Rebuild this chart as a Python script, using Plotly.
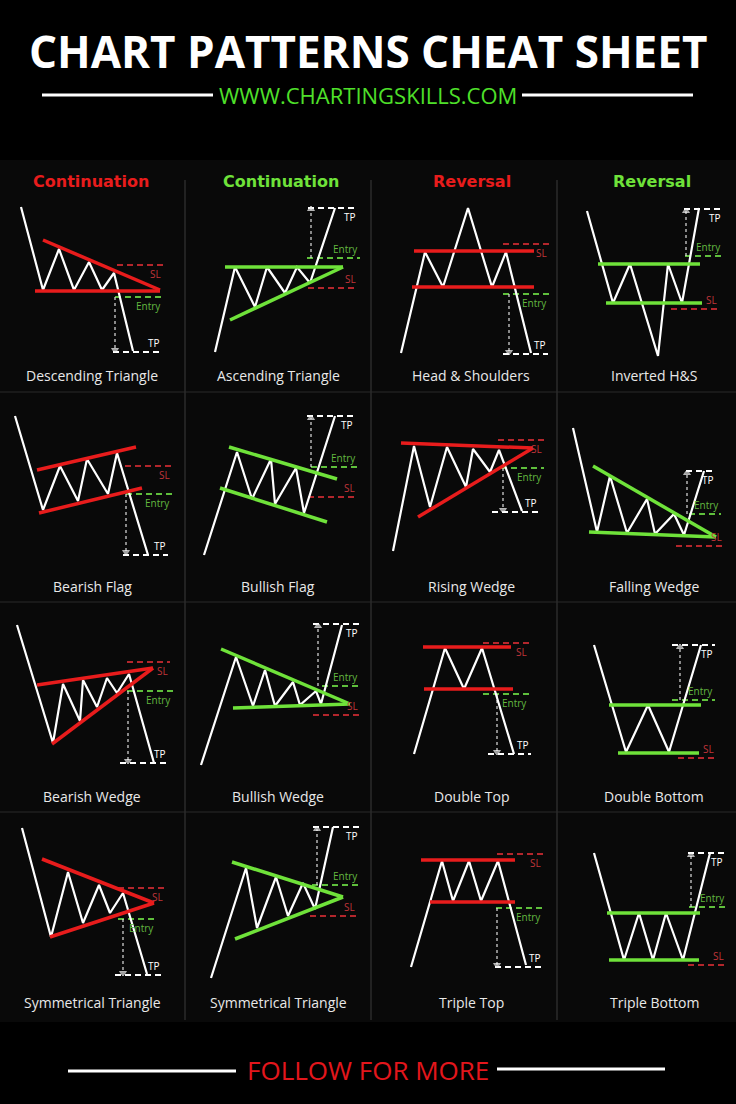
import plotly.graph_objects as go

# ---- pattern data (local panel units, x to the right, y = price up) ----
# each pattern: price path, trend lines (x0, y0, x1, y1), levels SL / Entry / TP (y, x0, x1), target arrow (x, from, to)

desc_tri_x = [21, 43, 59, 74, 89, 102, 114, 133]
desc_tri_y = [185, 102, 143, 102, 130, 102, 119, 41]
desc_tri_trend = [(43, 152, 160, 102), (35, 101, 160, 101)]
desc_tri_levels = [(127, 117, 163), (95, 115, 163), (40, 113, 162)]
desc_tri_arrow = (115, 95, 42)

asc_tri_x = [30, 50, 70, 82, 100, 112, 125, 150]
asc_tri_y = [40, 125, 85, 125, 99, 125, 109, 184]
asc_tri_trend = [(40, 125, 158, 125), (45, 72, 158, 125)]
asc_tri_levels = [(104, 123, 173), (134, 122, 175), (184, 123, 173)]
asc_tri_arrow = (126, 134, 183)

hs_x = [30, 54, 72, 97, 121, 135, 160]
hs_y = [39, 140, 105, 184, 105, 140, 39]
hs_trend = [(43, 141, 163, 141), (41, 105, 163, 105)]
hs_levels = [(148, 132, 178), (98, 132, 178), (38, 132, 177)]
hs_arrow = (138, 98, 40)

inv_hs_x = [30, 56, 73, 101, 111, 125, 142]
inv_hs_y = [181, 89, 128, 36, 128, 89, 184]
inv_hs_trend = [(41, 128, 143, 128), (49, 89, 145, 89)]
inv_hs_levels = [(83, 114, 162), (136, 128, 166), (183, 127, 166)]
inv_hs_arrow = (129, 136, 181)

bear_flag_x = [15, 43, 60, 78, 87, 108, 117, 148]
bear_flag_y = [186, 92, 136, 101, 143, 108, 149, 47]
bear_flag_trend = [(37, 132, 136, 155), (39, 89, 142, 114)]
bear_flag_levels = [(136, 125, 172), (108, 126, 172), (47, 123, 168)]
bear_flag_arrow = (126, 108, 50)

bull_flag_x = [19, 52, 67, 86, 90, 111, 119, 150]
bull_flag_y = [47, 150, 103, 143, 98, 134, 89, 186]
bull_flag_trend = [(44, 155, 152, 123), (35, 114, 142, 80)]
bull_flag_levels = [(105, 123, 172), (135, 126, 173), (186, 122, 170)]
bull_flag_arrow = (126, 135, 184)

rise_wedge_x = [22, 43, 59, 76, 95, 102, 119, 128, 151]
rise_wedge_y = [51, 156, 95, 155, 115, 153, 130, 152, 91]
rise_wedge_trend = [(30, 159, 162, 154), (47, 85, 162, 154)]
rise_wedge_levels = [(162, 127, 173), (134, 130, 173), (90, 121, 168)]
rise_wedge_arrow = (132, 134, 92)

fall_wedge_x = [16, 40, 53, 70, 90, 98, 117, 127, 147]
fall_wedge_y = [174, 70, 126, 69, 103, 68, 88, 67, 131]
fall_wedge_trend = [(36, 136, 159, 65), (32, 70, 159, 65)]
fall_wedge_levels = [(56, 119, 167), (88, 132, 164), (131, 129, 159)]
fall_wedge_arrow = (130, 88, 129)

bear_wedge_x = [17, 53, 63, 80, 83, 97, 107, 117, 129, 154]
bear_wedge_y = [187, 69, 128, 91, 132, 105, 134, 119, 138, 49]
bear_wedge_trend = [(37, 127, 153, 144), (52, 68, 153, 144)]
bear_wedge_levels = [(150, 127, 170), (121, 127, 173), (49, 120, 168)]
bear_wedge_arrow = (128, 121, 51)

bull_wedge_x = [16, 51, 68, 80, 90, 108, 115, 131, 136, 157]
bull_wedge_y = [47, 155, 106, 142, 106, 130, 107, 121, 108, 187]
bull_wedge_trend = [(36, 163, 165, 108), (48, 104, 165, 108)]
bull_wedge_levels = [(97, 128, 175), (126, 137, 175), (188, 128, 175)]
bull_wedge_arrow = (133, 126, 186)

dbl_top_x = [43, 74, 93, 111, 143]
dbl_top_y = [58, 164, 123, 164, 58]
dbl_top_trend = [(52, 165, 140, 165), (53, 123, 142, 123)]
dbl_top_levels = [(169, 112, 158), (118, 112, 158), (58, 117, 160)]
dbl_top_arrow = (126, 118, 60)

dbl_bot_x = [37, 69, 91, 112, 144]
dbl_bot_y = [167, 60, 107, 60, 167]
dbl_bot_trend = [(52, 107, 144, 107), (61, 59, 142, 59)]
dbl_bot_levels = [(54, 121, 159), (112, 115, 158), (167, 115, 158)]
dbl_bot_arrow = (123, 112, 165)

sym_bear_x = [22, 51, 68, 83, 99, 110, 123, 147]
sym_bear_y = [194, 85, 150, 99, 137, 109, 129, 48]
sym_bear_trend = [(42, 163, 154, 119), (50, 85, 154, 119)]
sym_bear_levels = [(134, 118, 165), (103, 118, 156), (47, 115, 162)]
sym_bear_arrow = (123, 103, 49)

sym_bull_x = [26, 61, 72, 91, 103, 118, 130, 148]
sym_bull_y = [44, 154, 94, 145, 106, 139, 113, 195]
sym_bull_trend = [(47, 160, 158, 125), (50, 83, 158, 125)]
sym_bull_levels = [(106, 125, 172), (137, 127, 175), (195, 128, 175)]
sym_bull_arrow = (132, 137, 193)

tri_top_x = [40, 71, 82, 98, 110, 127, 155]
tri_top_y = [55, 161, 121, 161, 121, 161, 57]
tri_top_trend = [(50, 162, 144, 162), (59, 120, 144, 120)]
tri_top_levels = [(168, 126, 172), (114, 125, 172), (55, 124, 172)]
tri_top_arrow = (126, 114, 57)

tri_bot_x = [37, 67, 82, 96, 109, 126, 153]
tri_bot_y = [169, 62, 109, 62, 109, 62, 169]
tri_bot_trend = [(50, 109, 143, 109), (52, 62, 142, 62)]
tri_bot_levels = [(57, 131, 169), (115, 132, 170), (169, 131, 168)]
tri_bot_arrow = (134, 115, 167)

pattern_names = ["Descending Triangle", "Ascending Triangle", "Head & Shoulders", "Inverted H&S",
                 "Bearish Flag", "Bullish Flag", "Rising Wedge", "Falling Wedge",
                 "Bearish Wedge", "Bullish Wedge", "Double Top", "Double Bottom",
                 "Symmetrical Triangle", "Symmetrical Triangle", "Triple Top", "Triple Bottom"]
bullish = [False, True, False, True] * 4
column_labels = ["Continuation", "Continuation", "Reversal", "Reversal"]
level_labels = ["SL", "Entry", "TP"]

panels = [
    (desc_tri_x, desc_tri_y, desc_tri_trend, desc_tri_levels, desc_tri_arrow),
    (asc_tri_x, asc_tri_y, asc_tri_trend, asc_tri_levels, asc_tri_arrow),
    (hs_x, hs_y, hs_trend, hs_levels, hs_arrow),
    (inv_hs_x, inv_hs_y, inv_hs_trend, inv_hs_levels, inv_hs_arrow),
    (bear_flag_x, bear_flag_y, bear_flag_trend, bear_flag_levels, bear_flag_arrow),
    (bull_flag_x, bull_flag_y, bull_flag_trend, bull_flag_levels, bull_flag_arrow),
    (rise_wedge_x, rise_wedge_y, rise_wedge_trend, rise_wedge_levels, rise_wedge_arrow),
    (fall_wedge_x, fall_wedge_y, fall_wedge_trend, fall_wedge_levels, fall_wedge_arrow),
    (bear_wedge_x, bear_wedge_y, bear_wedge_trend, bear_wedge_levels, bear_wedge_arrow),
    (bull_wedge_x, bull_wedge_y, bull_wedge_trend, bull_wedge_levels, bull_wedge_arrow),
    (dbl_top_x, dbl_top_y, dbl_top_trend, dbl_top_levels, dbl_top_arrow),
    (dbl_bot_x, dbl_bot_y, dbl_bot_trend, dbl_bot_levels, dbl_bot_arrow),
    (sym_bear_x, sym_bear_y, sym_bear_trend, sym_bear_levels, sym_bear_arrow),
    (sym_bull_x, sym_bull_y, sym_bull_trend, sym_bull_levels, sym_bull_arrow),
    (tri_top_x, tri_top_y, tri_top_trend, tri_top_levels, tri_top_arrow),
    (tri_bot_x, tri_bot_y, tri_bot_trend, tri_bot_levels, tri_bot_arrow),
]

# ---- layout / styling ----
W, H = 736, 1104
col_left = [0, 185, 371, 557]
col_width = [185, 186, 186, 179]
row_bottom = [392, 602, 812, 1022]
PANEL_H = 210
name_x = [92, 93, 100, 97]

RED = "#e81c1c"
GREEN = "#6fe23a"
level_colors = ["#b3262c", "#5fbf3c", "#ffffff"]
label_colors = ["#c0353a", "#62b840", "#ffffff"]
FONT = "Open Sans"


def px(x):
    return x / W


def py(y):
    return 1 - y / H


fig = go.Figure()
annotations = []
shapes = []

for i, (path_x, path_y, trend, levels, arrow) in enumerate(panels):
    r, c = divmod(i, 4)
    n = i + 1
    sfx = "" if n == 1 else str(n)
    xa, ya = "x" + sfx, "y" + sfx
    fig.layout["xaxis" + sfx] = dict(domain=[px(col_left[c]), px(col_left[c] + col_width[c])],
                                    range=[0, col_width[c]], visible=False, fixedrange=True, anchor=ya)
    fig.layout["yaxis" + sfx] = dict(domain=[py(row_bottom[r]), py(row_bottom[r] - PANEL_H)],
                                    range=[0, PANEL_H], visible=False, fixedrange=True, anchor=xa)
    up = bullish[i]
    tcol = GREEN if up else RED

    # dashed SL / Entry / TP levels + labels
    for k, (lv, x0, x1) in enumerate(levels):
        fig.add_trace(go.Scatter(x=[x0, x1], y=[lv, lv], mode="lines", xaxis=xa, yaxis=ya,
                                 line=dict(color=level_colors[k], width=2, dash="6px,4px"),
                                 hoverinfo="skip", showlegend=False))
        below = (k < 2) != up
        annotations.append(dict(x=x1, y=lv, xref=xa, yref=ya, text=level_labels[k], showarrow=False,
                                xanchor="right", yanchor="middle", yshift=-9 if below else 9,
                                font=dict(family=FONT, size=10, color=label_colors[k])))

    # dotted target arrow
    ax, a0, a1 = arrow
    fig.add_trace(go.Scatter(x=[ax, ax], y=[a0, a1], mode="lines+markers", xaxis=xa, yaxis=ya,
                             line=dict(color="#e0e0e0", width=1.2, dash="dot"),
                             marker=dict(size=[0, 6], color="#e0e0e0",
                                         symbol="triangle-up" if a1 > a0 else "triangle-down"),
                             hoverinfo="skip", showlegend=False))

    # price path
    fig.add_trace(go.Scatter(x=path_x, y=path_y, mode="lines", xaxis=xa, yaxis=ya,
                             line=dict(color="#ffffff", width=2.2),
                             hoverinfo="skip", showlegend=False))

    # trend lines
    for (x0, y0, x1, y1) in trend:
        fig.add_trace(go.Scatter(x=[x0, x1], y=[y0, y1], mode="lines", xaxis=xa, yaxis=ya,
                                 line=dict(color=tcol, width=3.5),
                                 hoverinfo="skip", showlegend=False))

    annotations.append(dict(x=name_x[c], y=16 if r < 3 else 20, xref=xa, yref=ya, text=pattern_names[i],
                            showarrow=False, xanchor="center", yanchor="middle",
                            font=dict(family=FONT, size=14, color="#e8e8e8")))

# column headers
head_x = [91, 281, 472, 652]
for c, lab in enumerate(column_labels):
    annotations.append(dict(x=px(head_x[c]), y=py(181), xref="paper", yref="paper", text="<b>%s</b>" % lab,
                            showarrow=False, xanchor="center", yanchor="middle",
                            font=dict(family="DejaVu Sans", size=16, color=GREEN if c % 2 else RED)))

# titles
for text, y, size, color in [("<b>CHART PATTERNS CHEAT SHEET</b>", 51, 44, "#ffffff"),
                             ("WWW.CHARTINGSKILLS.COM", 95, 22, "#4fe02a"),
                             ("FOLLOW FOR MORE", 1070, 26, "#e3161c")]:
    annotations.append(dict(x=px(368), y=py(y), xref="paper", yref="paper", text=text, showarrow=False,
                            xanchor="center", yanchor="middle", font=dict(family=FONT, size=size, color=color)))

# background panel, grid separators and header / footer rules
shapes.append(dict(type="rect", xref="paper", yref="paper", x0=0, x1=1, y0=py(1022), y1=py(160),
                   fillcolor="#090909", line=dict(width=0), layer="below"))
for x in col_left[1:]:
    shapes.append(dict(type="line", xref="paper", yref="paper", x0=px(x), x1=px(x), y0=py(1020), y1=py(180),
                       line=dict(color="#3c3c3c", width=1)))
for y in row_bottom[:3]:
    shapes.append(dict(type="line", xref="paper", yref="paper", x0=0, x1=1, y0=py(y), y1=py(y),
                       line=dict(color="#2a2a2a", width=1)))
for (x0, x1, y) in [(42, 213, 95), (522, 693, 95), (68, 236, 1071), (497, 665, 1069)]:
    shapes.append(dict(type="line", xref="paper", yref="paper", x0=px(x0), x1=px(x1), y0=py(y), y1=py(y),
                       line=dict(color="#ffffff", width=3)))

fig.update_layout(width=W, height=H, margin=dict(l=0, r=0, t=0, b=0),
                  paper_bgcolor="#000000", plot_bgcolor="rgba(0,0,0,0)",
                  annotations=annotations, shapes=shapes, showlegend=False)

fig.write_html("out.html", config={"displayModeBar": False},
               post_script="document.body.style.margin='0';document.body.style.background='#000';")
